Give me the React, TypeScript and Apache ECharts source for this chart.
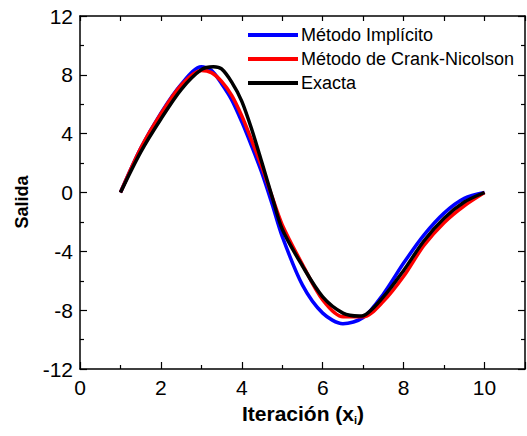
import React, { useEffect, useRef } from "react";
import * as echarts from "echarts";

const xImplicito = [1, 1.5, 2, 2.5, 3, 3.25, 3.5, 3.75, 4, 4.25, 4.5, 4.75, 5, 5.5, 6, 6.5, 7, 7.5, 8, 8.5, 9, 9.5, 10];
const yImplicito = [0, 3.0, 5.4, 7.35, 8.55, 8.3, 7.4, 6.3, 4.8, 3.1, 1.3, -0.8, -3.0, -6.3, -8.2, -8.92, -8.5, -6.9, -4.8, -2.9, -1.4, -0.4, 0];

const xCrank = [1, 1.5, 2, 2.5, 3, 3.25, 3.5, 3.75, 4, 4.25, 4.5, 4.75, 5, 5.5, 6, 6.5, 7, 7.5, 8, 8.5, 9, 9.5, 10];
const yCrank = [0, 3.0, 5.35, 7.3, 8.3, 8.15, 7.55, 6.6, 5.2, 3.5, 1.7, -0.3, -2.2, -4.9, -7.3, -8.45, -8.45, -7.4, -5.7, -3.6, -2.05, -0.9, 0];

const xExacta = [1, 1.5, 2, 2.5, 3, 3.3, 3.5, 3.75, 4, 4.25, 4.5, 4.75, 5, 5.5, 6, 6.5, 6.9, 7, 7.5, 8, 8.5, 9, 9.5, 10];
const yExacta = [0, 2.75, 5.0, 7.0, 8.35, 8.55, 8.4, 7.5, 6.2, 4.25, 2.0, -0.3, -2.5, -5.0, -7.1, -8.2, -8.4, -8.38, -7.1, -5.3, -3.3, -1.75, -0.65, 0];

const seriesNames = ["Método Implícito", "Método de Crank-Nicolson", "Exacta"];
const seriesColors = ["#0000ff", "#ff0000", "#000000"];

const xTicks = { min: 0, max: 11, interval: 2 };
const yTicks = { min: -12, max: 12, interval: 4 };

const FONT = "'Liberation Sans', Arial, Helvetica, sans-serif";

function pairs(xs: number[], ys: number[]) {
  return xs.map((x, i) => [x, ys[i]]);
}

export default function App() {
  const ref = useRef<HTMLDivElement>(null);
  useEffect(() => {
    document.body.style.margin = "0";
    if (!ref.current) return;
    const chart = echarts.init(ref.current, null, { renderer: "svg" });
    const axisLine = { show: true, onZero: false, lineStyle: { color: "#000", width: 1.5 } };
    const data = [pairs(xImplicito, yImplicito), pairs(xCrank, yCrank), pairs(xExacta, yExacta)];
    chart.setOption({
      animation: false,
      grid: { left: 80, right: 2, top: 16, bottom: 67 },
      legend: {
        orient: "vertical",
        left: 248,
        top: 26,
        padding: 0,
        itemWidth: 50,
        itemHeight: 18,
        itemGap: 6,
        icon: "path://M0,0h50v4h-50z",
        textStyle: { fontFamily: FONT, fontSize: 18, lineHeight: 18, color: "#000", padding: [0, 0, 0, -2] },
        data: seriesNames,
      },
      xAxis: [
        {
          type: "value",
          min: xTicks.min,
          max: xTicks.max,
          interval: xTicks.interval,
          axisLine,
          axisTick: { inside: true, length: 7, lineStyle: { color: "#000", width: 1.2 } },
          minorTick: { show: true, splitNumber: 2, length: 4, lineStyle: { color: "#000", width: 1.2 } },
          axisLabel: { fontFamily: FONT, fontSize: 21, color: "#000", margin: 8, showMaxLabel: false },
          splitLine: { show: false },
        },
        {
          type: "value",
          position: "top",
          min: xTicks.min,
          max: xTicks.max,
          interval: 1,
          axisLine,
          axisTick: { inside: true, length: 5, lineStyle: { color: "#000", width: 1.2 } },
          axisLabel: { show: false },
          splitLine: { show: false },
        },
      ],
      yAxis: [
        {
          type: "value",
          min: yTicks.min,
          max: yTicks.max,
          interval: yTicks.interval,
          axisLine,
          axisTick: { inside: true, length: 7, lineStyle: { color: "#000", width: 1.2 } },
          minorTick: { show: true, splitNumber: 2, length: 4, lineStyle: { color: "#000", width: 1.2 } },
          axisLabel: { fontFamily: FONT, fontSize: 21, color: "#000", margin: 7 },
          splitLine: { show: false },
        },
        {
          type: "value",
          position: "right",
          min: yTicks.min,
          max: yTicks.max,
          interval: yTicks.interval,
          axisLine,
          axisTick: { inside: true, length: 7, lineStyle: { color: "#000", width: 1.2 } },
          minorTick: { show: true, splitNumber: 2, length: 4, lineStyle: { color: "#000", width: 1.2 } },
          axisLabel: { show: false },
          splitLine: { show: false },
        },
      ],
      series: seriesNames.map((name, i) => ({
        name,
        type: "line",
        xAxisIndex: 0,
        yAxisIndex: 0,
        data: data[i],
        smooth: 0.3,
        showSymbol: false,
        symbol: "none",
        color: seriesColors[i],
        lineStyle: { color: seriesColors[i], width: 3.5 },
        z: 2 + i,
      })),
      graphic: [
        {
          type: "text",
          x: 303,
          y: 413,
          style: {
            text: "{a|Iteración (x}{s|i}{a|)}",
            textAlign: "center",
            textVerticalAlign: "middle",
            rich: {
              a: { fontFamily: FONT, fontSize: 21, fontWeight: "bold", fill: "#000" },
              s: { fontFamily: FONT, fontSize: 11, fontWeight: "bold", fill: "#000", padding: [13, 0, 0, 0] },
            },
          },
        },
        {
          type: "text",
          x: 22,
          y: 202,
          rotation: Math.PI / 2,
          style: {
            text: "Salida",
            textAlign: "center",
            textVerticalAlign: "middle",
            fontFamily: FONT,
            fontSize: 18,
            fontWeight: "bold",
            fill: "#000",
          },
        },
      ],
    });
    return () => chart.dispose();
  }, []);
  return <div ref={ref} style={{ width: 527, height: 436 }} />;
}
